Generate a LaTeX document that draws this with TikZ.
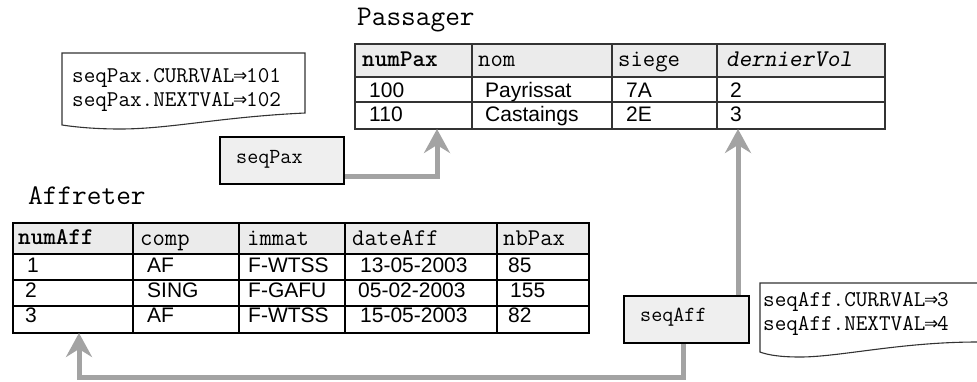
\documentclass[tikz,border=0pt]{standalone}
\usepackage{fontspec}
\setmainfont{Liberation Sans}
\newfontfamily\arrfont{DejaVu Sans Mono}
\usetikzlibrary{arrows.meta}
\definecolor{arrgray}{HTML}{A3A3A3}
\definecolor{hdrfill}{HTML}{EBEBEB}
\definecolor{boxfill}{HTML}{EFEFEF}
\definecolor{linegray}{HTML}{333333}
\newcommand{\ar}{\makebox[11.8pt][c]{\arrfont\fontsize{23}{24}\selectfont ⇒}}
\tikzset{
  hdr/.style={anchor=base west, inner sep=0pt, font=\ttfamily\fontsize{24}{26}\selectfont},
  dat/.style={anchor=base west, inner sep=0pt, font=\rmfamily\fontsize{21}{24}\selectfont},
  ttl/.style={anchor=base west, inner sep=0pt, font=\ttfamily\fontsize{28.5}{30}\selectfont},
  memotxt/.style={anchor=base west, inner sep=0pt, font=\ttfamily\fontsize{22.5}{24}\selectfont},
  seqbox/.style={draw=black, fill=boxfill, line width=1.8pt, inner sep=0pt, anchor=north west},
  seqtxt/.style={anchor=base west, inner sep=0pt, font=\ttfamily\fontsize{21.5}{24}\selectfont},
  memo/.style={draw=linegray, fill=white, line width=1.1pt},
  frameP/.style={draw=linegray, line width=1.8pt, inner sep=0pt, anchor=north west},
  frameA/.style={draw=black, line width=2.4pt, inner sep=0pt, anchor=north west},
  conn/.style={draw=arrgray, line width=5pt, -{Stealth[length=24pt,width=26pt,inset=8pt]}}
}
\begin{document}
\begin{tikzpicture}[x=1pt,y=-1pt]
\useasboundingbox (0,0) rectangle (977,381);
% ---------- memo seqPax ----------
\draw[memo] (62,53) -- (305,53) -- (305,113)
  .. controls (220,117) and (170,129) .. (120,129)
  .. controls (95,129) and (75,127) .. (62,125) -- cycle;
\node[memotxt] (mp1) at (72,82) {seqPax.CURRVAL\ar101};
\node[memotxt] (mp2) at (72,106) {seqPax.NEXTVAL\ar102};
% ---------- memo seqAff ----------
\draw[memo] (760,283) -- (978,283) -- (978,342)
  .. controls (900,342) and (840,357) .. (800,357)
  .. controls (780,357) and (768,355) .. (760,352) -- cycle;
\node[memotxt] (ma1) at (763,306) {seqAff.CURRVAL\ar3};
\node[memotxt] (ma2) at (763,330) {seqAff.NEXTVAL\ar4};
% ---------- Passager ----------
\node[ttl] (tP) at (357,25) {Passager};
\fill[hdrfill] (354,43) rectangle (884,77);
\draw[linegray, line width=1.5pt] (354,77) -- (884,77) (354,102) -- (884,102)
  (472,43) -- (472,128) (612,43) -- (612,128) (717,43) -- (717,128);
\node[frameP, minimum width=530pt, minimum height=85pt] (passager) at (354,43) {};
\node[hdr] (ph1) at (362,66) {\textbf{numPax}};
\node[hdr] (ph2) at (478,66) {nom};
\node[hdr] (ph3) at (618,66) {siege};
\node[hdr] (ph4) at (726,66) {\textsl{dernierVol}};
\node[dat] (p11) at (369,97) {100};
\node[dat] (p12) at (485,97) {Payrissat};
\node[dat] (p13) at (626,97) {7A};
\node[dat] (p14) at (730,97) {2};
\node[dat] (p21) at (369,121) {110};
\node[dat] (p22) at (485,121) {Castaings};
\node[dat] (p23) at (626,121) {2E};
\node[dat] (p24) at (730,121) {3};
% ---------- Affreter ----------
\node[ttl] (tA) at (28,204) {Affreter};
\fill[hdrfill] (12,222) rectangle (588,254);
\draw[black, line width=2pt] (12,254) -- (588,254) (12,280) -- (588,280) (12,306) -- (588,306)
  (133,222) -- (133,332) (239,222) -- (239,332) (345,222) -- (345,332) (497,222) -- (497,332);
\node[frameA, minimum width=576pt, minimum height=110pt] (affreter) at (12,222) {};
\node[hdr] (ah1) at (18,244) {\textbf{numAff}};
\node[hdr] (ah2) at (140,245) {comp};
\node[hdr] (ah3) at (247,245) {immat};
\node[hdr] (ah4) at (352,245) {dateAff};
\node[hdr] (ah5) at (503,245) {nbPax};
\node[dat] (a11) at (27,272) {1};
\node[dat] (a12) at (147,272) {AF};
\node[dat] (a13) at (248,272) {F-WTSS};
\node[dat] (a14) at (360,272) {13-05-2003};
\node[dat] (a15) at (508,272) {85};
\node[dat] (a21) at (25,297) {2};
\node[dat] (a22) at (147,297) {SING};
\node[dat] (a23) at (248,297) {F-GAFU};
\node[dat] (a24) at (358,297) {05-02-2003};
\node[dat] (a25) at (510,297) {155};
\node[dat] (a31) at (25,322) {3};
\node[dat] (a32) at (147,322) {AF};
\node[dat] (a33) at (248,322) {F-WTSS};
\node[dat] (a34) at (360,322) {15-05-2003};
\node[dat] (a35) at (508,322) {82};
% ---------- sequence boxes ----------
\node[seqbox, minimum width=124pt, minimum height=47pt] (seqpax) at (219,136) {};
\node[seqtxt] (seqpaxt) at (236,163) {seqPax};
\node[seqbox, minimum width=125pt, minimum height=47pt] (seqaff) at (623,295) {};
\node[seqtxt] (seqafft) at (640,321) {seqAff};
% ---------- connectors ----------
\coordinate (tipPax) at (437,129);
\coordinate (tipVol) at (738,129);
\coordinate (tipAff) at (79,333);
\coordinate (corner) at (683,377);
\draw[conn] ([yshift=8pt]seqpax.south east) -| (tipPax);
\draw[conn] (seqaff.north -| tipVol) -- (tipVol);
\draw[conn] (seqaff.south -| corner) -- (corner) -| (tipAff);
\end{tikzpicture}
\end{document}
